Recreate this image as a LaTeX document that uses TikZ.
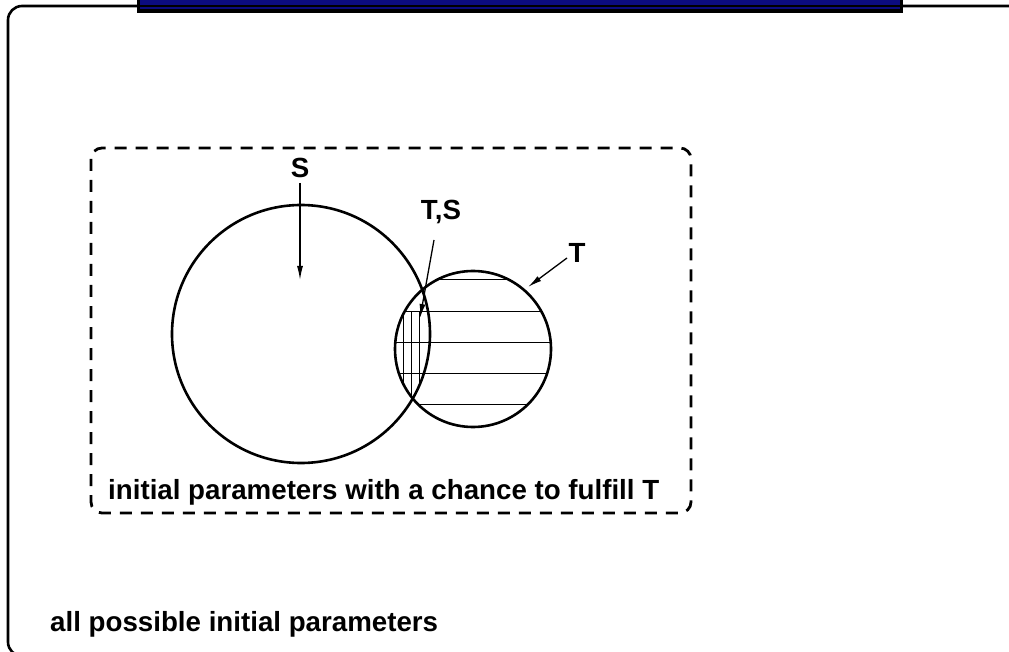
\documentclass[tikz,border=0pt]{standalone}
\usepackage{fontspec}
\setmainfont{Liberation Sans}
\usetikzlibrary{arrows.meta}
\definecolor{barblue}{RGB}{12,12,128}
\tikzset{
  lbl/.style={font=\fontsize{27.7}{30}\bfseries\selectfont, inner sep=0pt},
  circ/.style={line width=2.6pt},
  ptr/.style={line width=1.3pt, -{Latex[length=14pt,width=6pt]}},
  hatch/.style={line width=0.9pt},
}
\begin{document}
\begin{tikzpicture}[x=1pt,y=-1pt]
\useasboundingbox (0,0) rectangle (1009,652);
% outer frame
\draw[line width=2.6pt, rounded corners=14pt] (1015,6) -- (8,6) -- (8,656) -- (1015,656);
% top bar
\fill[black] (137,-2) rectangle (903,13.5);
\fill[barblue] (140,-2) rectangle (900,5);
\fill[barblue] (140,7.4) rectangle (900,9.4);
% dashed box
\draw[line width=2.8pt, dash pattern=on 12pt off 9pt, rounded corners=11pt] (91,148) rectangle (691,513);
% circles
\coordinate (sc) at (301,334);
\coordinate (tc) at (473,349);
\begin{scope}
  \clip (tc) circle (78);
  \foreach \yy in {279,311,342,373,404} \draw[hatch] (390,\yy) -- (556,\yy);
  \clip (sc) circle (129);
  \foreach \xx in {403,411,419} \draw[hatch] (\xx,311) -- (\xx,420);
\end{scope}
\draw[circ] (sc) circle (129);
\draw[circ] (tc) circle (78);
% labels
\node[lbl] (S) at (300,168) {S};
\node[lbl] (TS) at (441,212) {T,S};
\node[lbl] (T) at (577,253) {T};
\coordinate (sa) at (300,280);
\coordinate (tsa) at (420,318);
\coordinate (ta) at (528,287);
\draw[ptr] (300,183) -- (sa);
\draw[ptr] (434,240) -- (tsa);
\draw[ptr] (567,258) -- (ta);
\node[lbl, anchor=base west] (inner) at (108,499) {initial parameters with a chance to fulfill T};
\node[lbl, anchor=base west] (outer) at (50,631) {all possible initial parameters};
\end{tikzpicture}
\end{document}
